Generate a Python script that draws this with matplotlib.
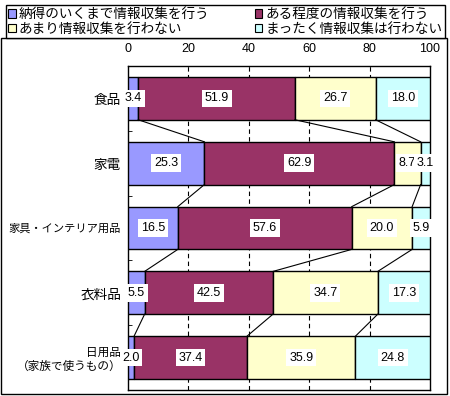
import matplotlib
matplotlib.use('Agg')
import numpy as np
import matplotlib.pyplot as plt
from matplotlib.patches import Rectangle

plt.rcParams['font.family'] = ['Liberation Sans', 'Noto Sans CJK JP']
plt.rcParams['font.size'] = 9

categories = ['食品', '家電', '家具・インテリア用品', '衣料品', '日用品\n（家族で使うもの）']
series_names = ['納得のいくまで情報収集を行う', 'ある程度の情報収集を行う',
                'あまり情報収集を行わない', 'まったく情報収集は行わない']
colors = ['#9999FF', '#993366', '#FFFFCC', '#CCFFFF']

s1 = [3.4, 25.3, 16.5, 5.5, 2.0]
s2 = [51.9, 62.9, 57.6, 42.5, 37.4]
s3 = [26.7, 8.7, 20.0, 34.7, 35.9]
s4 = [18.0, 3.1, 5.9, 17.3, 24.8]
x_ticks = [0, 20, 40, 60, 80, 100]

W, H = 450, 396
fig = plt.figure(figsize=(W / 100, H / 100), dpi=100)
ax = fig.add_axes([128 / W, 6 / H, 302 / W, 324 / H])

data = np.array([s1, s2, s3, s4])
y = np.arange(len(categories))
bh = 0.66
left = np.zeros(len(categories))
handles = []
for vals, c, name in zip(data, colors, series_names):
    b = ax.barh(y, vals, left=left, height=bh, color=c, edgecolor='black',
                linewidth=1.0, label=name, zorder=3)
    handles.append(b)
    for yi, (l, v) in enumerate(zip(left, vals)):
        ax.text(l + v / 2, yi, f'{v:.1f}', ha='center', va='center', zorder=5,
                bbox=dict(facecolor='white', edgecolor='none', pad=2))
    left = left + vals

# connecting lines between bars
cum = np.cumsum(data, axis=0)
for i in range(len(categories) - 1):
    for k in range(3):
        ax.plot([cum[k, i], cum[k, i + 1]], [i + bh / 2, i + 1 - bh / 2],
                color='black', linewidth=0.8, zorder=4)

ax.set_xlim(0, 100)
ax.set_ylim(len(categories) - 0.5, -0.5)
ax.set_xticks(x_ticks)
ax.xaxis.tick_top()
ax.tick_params(axis='x', length=0, pad=8)
ax.set_yticks(y)
ax.set_yticklabels(categories)
ax.tick_params(axis='y', which='major', length=0, pad=5)
ax.set_yticks(np.arange(0.5, len(categories) - 0.5, 1), minor=True)
ax.tick_params(axis='y', which='minor', direction='in', length=3, color='black')
label_sizes = [9.8, 9.8, 8.1, 9.8, 8.4]
for t, fs in zip(ax.get_yticklabels(), label_sizes):
    t.set_multialignment('right')
    t.set_fontsize(fs)
for k in x_ticks[1:-1]:
    ax.axvline(k, color='black', linestyle=(0, (4, 3)), linewidth=0.8, zorder=1)
for sp in ax.spines.values():
    sp.set_linewidth(1.0)

# outer frame
fig.patches.append(Rectangle((1 / W, 2 / H), 446 / W, 356 / H, transform=fig.transFigure,
                             fill=False, edgecolor='black', linewidth=1.0))

leg_handles = [handles[0], handles[2], handles[1], handles[3]]
leg = fig.legend(handles=leg_handles, loc='lower left', ncol=2, mode='expand',
                 bbox_to_anchor=(6 / W, 1 - 38 / H, 439 / W, 35 / H),
                 fancybox=False, edgecolor='black', framealpha=1, fontsize=9.8,
                 handlelength=0.55, handleheight=0.55, handletextpad=0.25,
                 borderpad=0.15, labelspacing=0.05, columnspacing=0.5,
                 borderaxespad=0)
leg.get_frame().set_linewidth(1.0)
for p in leg.get_patches():
    p.set_linewidth(0.8)

fig.savefig('out.png', dpi=100)
